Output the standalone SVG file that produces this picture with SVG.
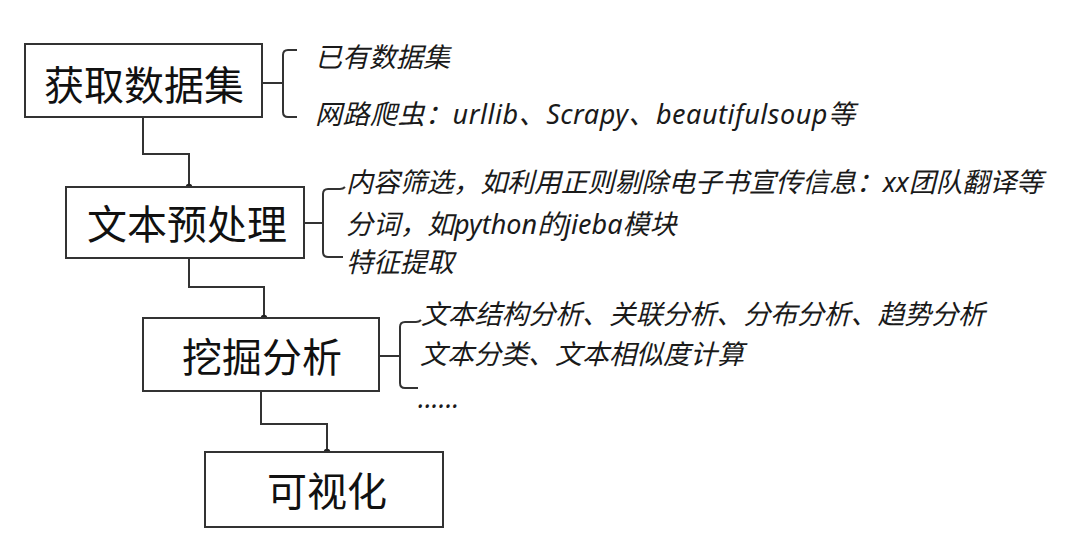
<svg xmlns="http://www.w3.org/2000/svg" width="1080" height="557" viewBox="0 0 1080 557">
  <style>
    .box { fill: #ffffff; stroke: #333333; stroke-width: 2; }
    .title { font-family: "Noto Sans CJK SC", "Noto Sans", sans-serif; font-size: 40px; fill: #111111; text-anchor: middle; dominant-baseline: central; }
    .note { font-family: "Noto Sans", "Noto Sans CJK SC", sans-serif; font-size: 27px; font-style: italic; fill: #1a1a1a; dominant-baseline: central; }
    .line { fill: none; stroke: #333333; stroke-width: 2; }
    .dot { fill: #222222; }
  </style>
  <rect width="1080" height="557" fill="#ffffff"/>

  <g id="connectors">
    <path class="line" d="M143,117 V154 H189 V187"/>
    <circle class="dot" cx="189" cy="187" r="3.2"/>
    <path class="line" d="M189,258 V287 H264 V318"/>
    <circle class="dot" cx="264" cy="318" r="3.2"/>
    <path class="line" d="M261,391 V424 H327 V452"/>
    <circle class="dot" cx="327" cy="452" r="3.2"/>
  </g>

  <g id="node-acquire">
    <rect class="box" x="25" y="44" width="237" height="73"/>
    <text class="title" x="144" y="83">获取数据集</text>
  </g>
  <g id="brace-acquire">
    <path class="line" d="M262,83 H283"/>
    <path class="line" d="M297,50 H288 Q283,50 283,55 V112 Q283,117 288,117 H297"/>
    <text class="note" x="315" y="56">已有数据集</text>
    <text class="note" x="315" y="113" textLength="540" lengthAdjust="spacing">网路爬虫：urllib、Scrapy、beautifulsoup等</text>
  </g>

  <g id="node-preprocess">
    <rect class="box" x="66" y="187" width="238" height="71"/>
    <text class="title" x="187" y="222">文本预处理</text>
  </g>
  <g id="brace-preprocess">
    <path class="line" d="M304,223 H323"/>
    <path class="line" d="M345,187 Q343,189 340,189 H328 Q323,189 323,194 V252 Q323,257 328,257 H343"/>
    <text class="note" x="346" y="181" textLength="697" lengthAdjust="spacing">内容筛选，如利用正则剔除电子书宣传信息：xx团队翻译等</text>
    <text class="note" x="346" y="223">分词，如python的jieba模块</text>
    <text class="note" x="346" y="261">特征提取</text>
  </g>

  <g id="node-mining">
    <rect class="box" x="143" y="318" width="236" height="73"/>
    <text class="title" x="262" y="355">挖掘分析</text>
  </g>
  <g id="brace-mining">
    <path class="line" d="M379,356 H400"/>
    <path class="line" d="M421,320 Q419,322 416,322 H405 Q400,322 400,327 V383 Q400,388 405,388 H418"/>
    <text class="note" x="421" y="313" textLength="564" lengthAdjust="spacing">文本结构分析、关联分析、分布分析、趋势分析</text>
    <text class="note" x="420" y="353">文本分类、文本相似度计算</text>
    <text class="note" x="418" y="397">......</text>
  </g>

  <g id="node-visualize">
    <rect class="box" x="205" y="452" width="238" height="75"/>
    <text class="title" x="327" y="489">可视化</text>
  </g>
</svg>
